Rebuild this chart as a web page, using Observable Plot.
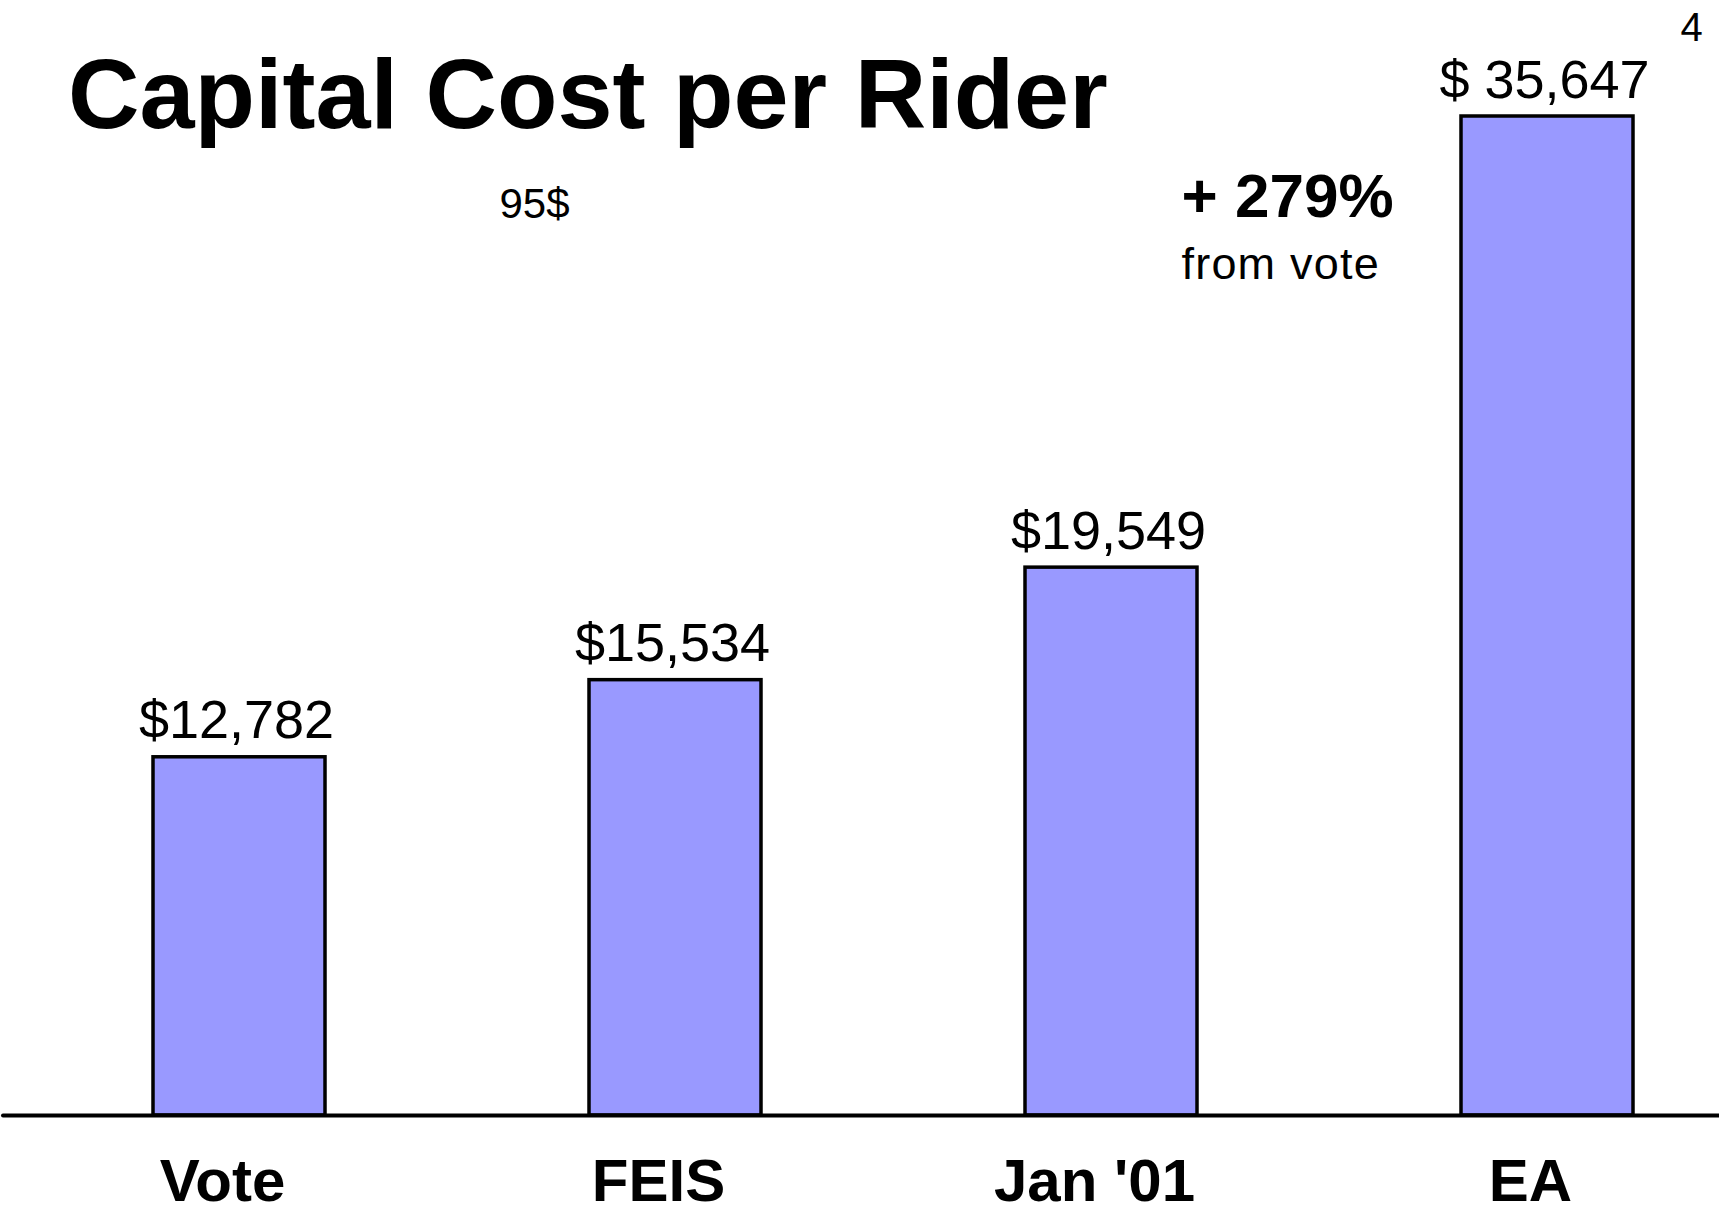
<!DOCTYPE html>
<html><head><meta charset="utf-8">
<script src="https://cdn.jsdelivr.net/npm/d3@7"></script>
<script src="https://cdn.jsdelivr.net/npm/@observablehq/plot@0.6"></script>
<style>body{margin:0;background:#fff} #chart svg{display:block}</style>
</head><body><div id="chart"></div>
<script>
const categories = ["Vote", "FEIS", "Jan '01", "EA"];
const costs = [12782, 15534, 19549, 35647];
const costLabels = ["$12,782", "$15,534", "$19,549", "$ 35,647"];
const titleText = ["Capital Cost per Rider"];
const noteText = ["95$"];
const changeText = ["+ 279%"];
const changeSubText = ["from vote"];
const pageText = ["4"];

const data = categories.map((c, i) => ({category: c, cost: costs[i], label: costLabels[i]}));
const font = "'Liberation Sans', Arial, Helvetica, sans-serif";

const chart = Plot.plot({
  width: 1719, height: 1214,
  marginTop: 116, marginBottom: 99, marginLeft: 3, marginRight: 0,
  style: {fontFamily: font, background: "#fff", color: "#000", overflow: "visible"},
  x: {domain: categories, paddingInner: 0.6055, paddingOuter: 0.2706, align: 0.6356},
  y: {domain: [0, d3.max(costs)], axis: null},
  marks: [
    Plot.barY(data, {x: "category", y: "cost", fill: "#9999FF", stroke: "#000", strokeWidth: 3.5}),
    Plot.ruleY([0], {stroke: "#000", strokeWidth: 4, strokeLinecap: "round"}),
    Plot.axisX({tickSize: 0, tickPadding: 43, fontSize: 60, fontWeight: "bold", dx: -17, label: null}),
    Plot.text(data, {x: "category", y: "cost", text: "label", dx: -3, dy: -19, lineAnchor: "bottom", fontSize: 54}),
    Plot.text(titleText, {text: d => d, frameAnchor: "top-left", textAnchor: "start", lineAnchor: "bottom", dx: 64.5, dy: 11, fontSize: 99, fontWeight: "bold"}),
    Plot.text(noteText, {text: d => d, frameAnchor: "top-left", textAnchor: "start", lineAnchor: "bottom", dx: 496, dy: 101, fontSize: 42}),
    Plot.text(changeText, {text: d => d, frameAnchor: "top-left", textAnchor: "start", lineAnchor: "bottom", dx: 1178, dy: 100.7, fontSize: 62, fontWeight: "bold"}),
    Plot.text(changeSubText, {text: d => d, frameAnchor: "top-left", textAnchor: "start", lineAnchor: "bottom", dx: 1178, dy: 162.3, fontSize: 45, className: "subnote"}),
    Plot.text(pageText, {text: d => d, frameAnchor: "top-left", textAnchor: "start", lineAnchor: "bottom", dx: 1677, dy: -76, fontSize: 40})
  ]
});
chart.querySelectorAll(".subnote text").forEach(t => t.style.letterSpacing = "1.2px");
document.getElementById("chart").appendChild(chart);
</script>
</body></html>
